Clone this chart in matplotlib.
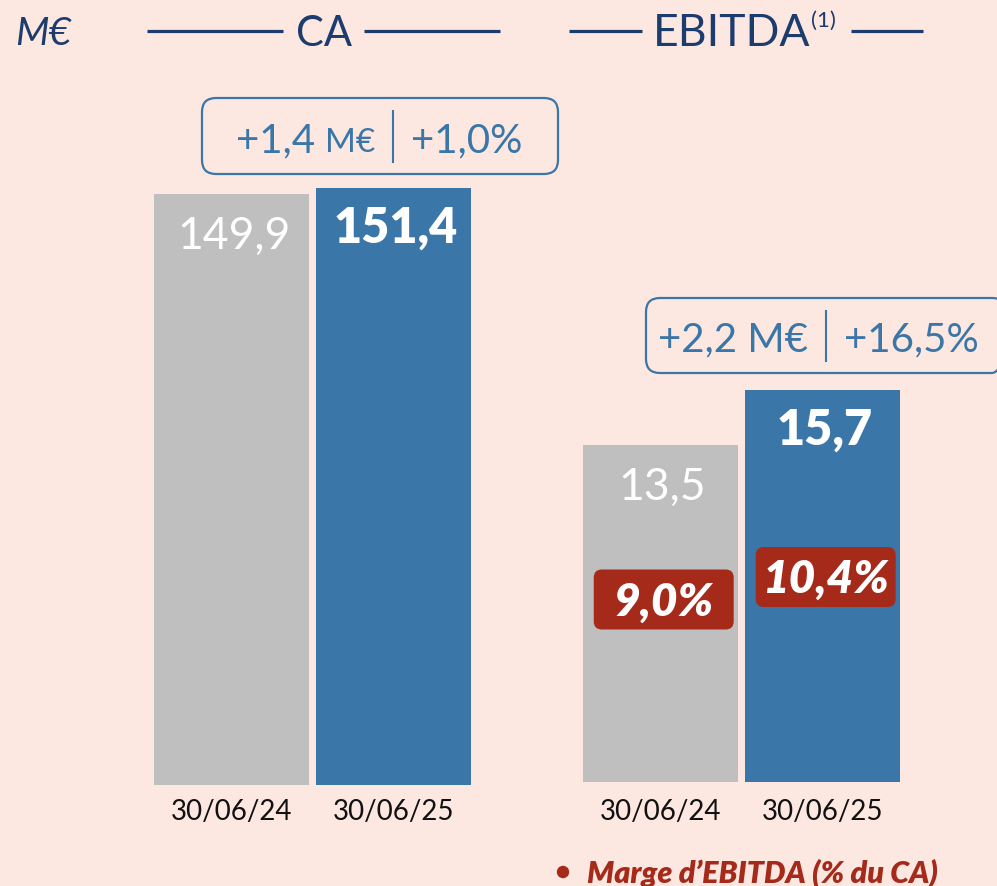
import matplotlib
matplotlib.use("Agg")
import matplotlib.pyplot as plt
from matplotlib.patches import FancyBboxPatch, Circle

plt.rcParams['font.family'] = ['Lato', 'DejaVu Sans']

# data
periods = ['30/06/24', '30/06/25']
ca = [149.9, 151.4]
ebitda = [13.5, 15.7]
marge = [9.0, 10.4]
ca_var = (1.4, 1.0)        # M€, %
ebitda_var = (2.2, 16.5)   # M€, %

def fr(v, dec=1):
    return f"{v:.{dec}f}".replace('.', ',')

# colours
bg = '#FCE7E1'
grey = '#BFBFBF'
blue = '#3A76A8'
navy = '#1D3C6E'
red = '#A52A1A'

W, H = 997, 887
fig = plt.figure(figsize=(W / 100, H / 100), dpi=100, facecolor=bg)

# one axes per group, each with its own scale (bars start at 0)
ax_ca = fig.add_axes([140 / W, 1 - 786 / H, 350 / W, 686 / H])
ax_eb = fig.add_axes([568 / W, 1 - 783 / H, 350 / W, 683 / H])
ax_ca.set_ylim(0, 174.0)
ax_eb.set_ylim(0, 27.32)
ax_ca.set_xlim(-0.568, 1.593)
ax_eb.set_xlim(-0.571, 1.590)

xs = [0, 1]
for ax, vals, pad in [(ax_ca, ca, 9.5), (ax_eb, ebitda, 11.5)]:
    ax.patch.set_alpha(0)
    ax.bar(xs, vals, width=0.957, color=[grey, blue])
    for s in ax.spines.values():
        s.set_visible(False)
    ax.set_yticks([])
    ax.set_xticks(xs, labels=periods)
    ax.tick_params(axis='x', length=0, pad=pad, labelsize=20, labelcolor='#111111')
    # value labels inside the bars
    for i, v in enumerate(vals):
        if i == 0:
            ax.annotate(fr(v), (xs[i], v), xytext=(2, -54), textcoords='offset pixels',
                        ha='center', va='baseline', color='white', fontsize=32,
                        fontweight='normal')
        else:
            ax.annotate(fr(v), (xs[i], v), xytext=(2, -54), textcoords='offset pixels',
                        ha='center', va='baseline', color='white', fontsize=35,
                        fontweight='heavy')

# EBITDA margin badges
badge_y = [7.3, 8.2]
for i, m in enumerate(marge):
    bw, bh = 0.864, 2.4
    ax_eb.add_patch(FancyBboxPatch((xs[i] + 0.02 - bw / 2, badge_y[i] - bh / 2), bw, bh,
                                   boxstyle='round,pad=0,rounding_size=0.05',
                                   mutation_aspect=6.48, fc=red, ec='none', zorder=3))
    ax_eb.annotate(fr(m) + '%', (xs[i] + 0.02, badge_y[i]), xytext=(0, -15),
                   textcoords='offset pixels', ha='center', va='baseline',
                   color='white', fontsize=33, fontweight='heavy', fontstyle='italic',
                   zorder=4)

# overlay in pixel coordinates for header, callouts and legend
ov = fig.add_axes([0, 0, 1, 1])
ov.set_xlim(0, W)
ov.set_ylim(H, 0)
ov.axis('off')
ov.patch.set_alpha(0)

ov.text(15, 45, 'M€', fontsize=28, fontstyle='italic', color=navy, va='baseline')
for x0, x1 in [(147, 283), (364, 500), (569, 642), (851, 923)]:
    ov.plot([x0, x1], [32, 32], color=navy, lw=2.3, solid_capstyle='butt')
ov.text(323.5, 46, 'CA', fontsize=30, color=navy, ha='center', va='baseline')
t_eb = ov.text(653, 46, 'EBITDA', fontsize=32, color=navy, va='baseline')
ov.annotate('(1)', xy=(1, 1), xycoords=t_eb, xytext=(0, 2), textcoords='offset pixels',
            fontsize=16, color=navy, va='top', ha='left')


def callout(x0, x1, y0, y1, sep, base, var, pct, small_unit):
    ov.add_patch(FancyBboxPatch((x0, y0), x1 - x0, y1 - y0,
                                boxstyle='round,pad=0,rounding_size=14',
                                fc='none', ec=blue, lw=1.6, clip_on=False))
    ov.plot([sep, sep], [y0 + 13, y1 - 12], color=blue, lw=1.5)
    if small_unit:
        ov.text(sep - 18, base, 'M€', fontsize=24, color=blue, ha='right', va='baseline')
        ov.text(sep - 78, base, f'+{fr(var)}', fontsize=29, color=blue, ha='right', va='baseline')
    else:
        ov.text(sep - 18, base, f'+{fr(var)} M€', fontsize=29, color=blue, ha='right', va='baseline')
    ov.text(sep + 18, base, f'+{fr(pct)}%', fontsize=29, color=blue, ha='left', va='baseline')


callout(202, 558, 99, 175, 393, 152, ca_var[0], ca_var[1], True)
callout(646, 1006, 299, 374, 826, 351, ebitda_var[0], ebitda_var[1], False)

# legend
ov.add_patch(Circle((563, 873), 5.5, color=red))
ov.text(587, 883, 'Marge d’EBITDA (% du CA)', fontsize=22, fontweight='heavy',
        fontstyle='italic', color=red, va='baseline')

fig.savefig('out.png', dpi=100, facecolor=bg)
